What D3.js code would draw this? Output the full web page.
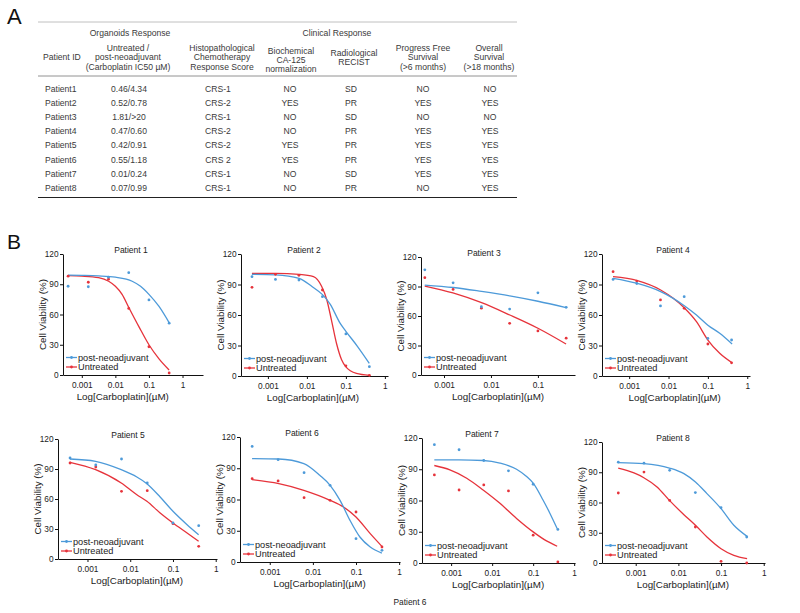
<!DOCTYPE html>
<html><head><meta charset="utf-8">
<script src="https://cdn.jsdelivr.net/npm/d3@7"></script>
<style>
body{margin:0;background:#fff;}
text{font-family:"Liberation Sans",Arial,sans-serif;}
</style>
</head><body><svg id="c" width="800" height="613"></svg>
<script>
// ---------- Panel A data ----------
const groupHeaders = ["Organoids Response", "Clinical Response"];
const columnHeaders = [
  ["Patient ID"],
  ["Untreated /", "post-neoadjuvant", "(Carboplatin IC50 µM)"],
  ["Histopathological", "Chemotherapy", "Response Score"],
  ["Biochemical", "CA-125", "normalization"],
  ["Radiological", "RECIST"],
  ["Progress Free", "Survival", "(>6 months)"],
  ["Overall", "Survival", "(>18 months)"]
];
const patientIds = ["Patient1","Patient2","Patient3","Patient4","Patient5","Patient6","Patient7","Patient8"];
const ic50Values = ["0.46/4.34","0.52/0.78","1.81/>20","0.47/0.60","0.42/0.91","0.55/1.18","0.01/0.24","0.07/0.99"];
const crsScores = ["CRS-1","CRS-2","CRS-1","CRS-2","CRS-2","CRS 2","CRS-1","CRS-1"];
const ca125Norm = ["NO","YES","NO","NO","YES","YES","NO","NO"];
const recist = ["SD","PR","SD","PR","PR","PR","SD","PR"];
const pfs6 = ["NO","YES","NO","YES","YES","YES","YES","NO"];
const os18 = ["NO","YES","NO","YES","YES","YES","YES","YES"];

// ---------- Panel B data ----------
const patientTitles = ["Patient 1","Patient 2","Patient 3","Patient 4","Patient 5","Patient 6","Patient 7","Patient 8"];
const seriesNames = ["post-neoadjuvant", "Untreated"];
const doses = [0.000390625, 0.0015625, 0.00625, 0.025, 0.1, 0.4]; // µM
const xTickValues = [0.001, 0.01, 0.1, 1];
const yTickValues = [0, 30, 60, 90, 120];

// measured viability (%) per dose
const postPoints = [
  [88, 87.5, 97, 101.5, 74.5, 51.4],
  [97.7, 95, 94.4, 78, 41.4, 9.2],
  [107, 93.7, 69.4, 67, 83.6, 68.8],
  [95, 91, 68.9, 78, 37, 35.4],
  [101, 94, 100, 76, 36, 33.3],
  [111, 98.2, 85.8, 73.6, 22.4, 11.2],
  [113.6, 108.7, 98.4, 88.5, 75.6, 32.2],
  [100, 99, 91.9, 69.8, 54.9, 25.8]
];
const untreatedPoints = [
  [98, 92, 95, 66, 28, 2],
  [87.2, 100, 99, 84.6, 10, 0.7],
  [99, 87, 68, 52.6, 44.8, 37.4],
  [102.6, 93.4, 74.8, 66.6, 31.5, 13],
  [96, 92, 67.7, 68.3, 35.3, 12.7],
  [80, 77.8, 61.8, 59.2, 48, 14.4],
  [84.6, 70.1, 75, 69.2, 26.7, 1],
  [69.4, 90.2, 62.1, 35.7, 1.7, 0]
];
// fitted curves: [log10(dose µM), viability %]
const postCurves = [
  [[-3.41,99],[-3,98.8],[-2.5,98.3],[-2,97],[-1.5,93],[-1.25,88],[-1,80],[-0.7,68],[-0.4,52]],
  [[-3.41,100],[-2.8,99.5],[-2.2,96],[-1.87,88],[-1.6,80],[-1.4,70.5],[-1.15,52],[-1,44],[-0.7,29],[-0.4,12.5]],
  [[-3.41,91.5],[-2.8,89],[-2.2,85],[-1.6,80.5],[-1,75],[-0.4,68.5]],
  [[-3.41,96],[-2.79,91],[-2.2,83],[-1.88,76.4],[-1.59,68.9],[-1.29,60],[-1,50],[-0.7,42],[-0.385,31.5]],
  [[-3.41,100],[-2.81,97.7],[-2.21,89.3],[-1.845,82],[-1.61,75.3],[-1.3,62],[-1,47.7],[-0.67,34.3],[-0.4,24.3]],
  [[-3.41,99.2],[-2.79,98.9],[-2.21,94.4],[-1.84,83.2],[-1.6,73.6],[-1.37,59.2],[-1.14,40],[-0.91,24],[-0.67,14.4],[-0.4,8.6]],
  [[-3.41,99],[-2.81,99],[-2.22,98.4],[-1.81,95.9],[-1.405,90],[-1.16,83],[-1,76.6],[-0.76,60.5],[-0.59,47.6],[-0.415,33.1]],
  [[-3.41,99.5],[-2.81,98.5],[-2.21,94.2],[-1.87,88.6],[-1.6,80.3],[-1.33,68.8],[-1,53.9],[-0.7,37.4],[-0.39,26.4]]
];
const untreatedCurves = [
  [[-3.41,98.5],[-3,98],[-2.5,96.5],[-2.2,93],[-2,88],[-1.8,80],[-1.6,67],[-1.3,48],[-1,30],[-0.7,16],[-0.4,5]],
  [[-3.41,101],[-2.8,101],[-2.2,100],[-1.83,97.7],[-1.62,88],[-1.49,75],[-1.37,55],[-1.24,32],[-1.11,16],[-1,9],[-0.73,2.6],[-0.4,0.7]],
  [[-3.41,90.5],[-2.81,83.5],[-2.2,73.5],[-1.6,61],[-1,47.5],[-0.4,31.5]],
  [[-3.41,97.7],[-2.79,93.8],[-2.2,84.6],[-1.88,76.4],[-1.59,66.6],[-1.29,53.4],[-1,35.4],[-0.7,22.3],[-0.385,13]],
  [[-3.41,96.7],[-2.81,89.3],[-2.21,76],[-1.845,64.3],[-1.61,57.7],[-1.3,46],[-1,36],[-0.67,26],[-0.4,17.7]],
  [[-3.41,79],[-2.79,75.2],[-2.21,68.8],[-1.6,59.2],[-1.29,52.8],[-1,43.2],[-0.67,27.2],[-0.4,15]],
  [[-3.41,93.6],[-3.03,89.4],[-2.62,81.4],[-2.22,70.1],[-1.81,57.3],[-1.405,42.8],[-1,29.9],[-0.675,21.2],[-0.415,16.1]],
  [[-3.41,94.2],[-3.04,89.3],[-2.81,84.6],[-2.5,75.4],[-2.21,62.1],[-1.87,47.9],[-1.6,37.4],[-1.33,25.8],[-1,14.2],[-0.7,7.6],[-0.39,4.3]]
];
const footnote = "Patient 6";

// ---------- layout / style ----------
const BLUE = "#4d9ad9", RED = "#e6333b";
const colors = [BLUE, RED];
const panels = [
  {left:63, right:203, top:254, bottom:375, lo:-3.56, hi:0.61, tx:131},
  {left:241,right:388, top:254, bottom:376, lo:-3.69, hi:0.08, tx:304},
  {left:421,right:575, top:257, bottom:375, lo:-3.49, hi:-0.21, tx:484},
  {left:602,right:750, top:254, bottom:376, lo:-3.69, hi:0.07, tx:673},
  {left:58, right:217, top:439, bottom:559, lo:-3.69, hi:0.03, tx:128},
  {left:240,right:400, top:437, bottom:562, lo:-3.69, hi:0.02, tx:302},
  {left:422,right:575, top:438, bottom:563, lo:-3.71, hi:0.02, tx:482},
  {left:602,right:765, top:442, bottom:563, lo:-3.79, hi:0.03, tx:673}
];
const FONT = '"Liberation Sans",Arial,sans-serif';

const svg = d3.select("#c");
svg.append("rect").attr("width",800).attr("height",613).attr("fill","#fff");

// ---------- Panel A ----------
svg.append("text").attr("x",7).attr("y",24).attr("font-size",22).attr("fill","#111").text("A");
svg.append("text").attr("x",7).attr("y",249).attr("font-size",21).attr("fill","#111").text("B");

const tA = svg.append("g").attr("fill","#3a3a3a").attr("font-size",8.6);
tA.append("line").attr("x1",38).attr("x2",517).attr("y1",22).attr("y2",22).attr("stroke","#b0b0b0").attr("stroke-width",0.8);
tA.append("line").attr("x1",38).attr("x2",517).attr("y1",76).attr("y2",76).attr("stroke","#777").attr("stroke-width",0.8);
tA.append("line").attr("x1",38).attr("x2",517).attr("y1",197.5).attr("y2",197.5).attr("stroke","#222").attr("stroke-width",1.2);

const groupX = [130, 337];
groupHeaders.forEach((g,i)=>{
  tA.append("text").attr("x",groupX[i]).attr("y",36).attr("text-anchor","middle").text(g);
});
const colX = [43, 128, 222, 291, 354, 423, 489];
const headerTop = [60, 51, 51, 53.5, 55.5, 51, 51];
columnHeaders.forEach((lines,c)=>{
  lines.forEach((l,k)=>{
    tA.append("text").attr("x",colX[c]).attr("y",headerTop[c]+k*9.4)
      .attr("text-anchor", c===0 ? "start" : "middle").text(l);
  });
});
const cols = [patientIds, ic50Values, crsScores, ca125Norm, recist, pfs6, os18];
const valX = [45, 129, 218, 290, 351, 423, 490];
patientIds.forEach((p,r)=>{
  const yy = 92 + r*14.1;
  cols.forEach((col,c)=>{
    tA.append("text").attr("x", valX[c]).attr("y",yy)
      .attr("text-anchor", c===0 ? "start" : "middle").text(col[r]);
  });
});

// ---------- Panel B ----------
const fmt = d => (d >= 1 ? d3.format("d")(d) : String(d));
panels.forEach((P,i)=>{
  const g = svg.append("g");
  const x = d3.scaleLog().domain([Math.pow(10,P.lo), Math.pow(10,P.hi)]).range([P.left, P.right]);
  const y = d3.scaleLinear().domain([0,120]).range([P.bottom, P.top]);
  const [dLo, dHi] = x.domain();
  const xt = xTickValues.filter(v => v >= dLo && v <= dHi);

  const xa = g.append("g").attr("transform",`translate(0,${P.bottom})`)
    .call(d3.axisBottom(x).tickValues(xt).tickFormat(fmt).tickSize(3).tickSizeOuter(0));
  const ya = g.append("g").attr("transform",`translate(${P.left},0)`)
    .call(d3.axisLeft(y).tickValues(yTickValues).tickSize(3).tickSizeOuter(0));
  [xa, ya].forEach(a=>{
    a.select(".domain").attr("stroke","#111").attr("stroke-width",1);
    a.selectAll(".tick line").attr("stroke","#111");
    a.selectAll(".tick text").attr("font-size",8.3).attr("fill","#222").attr("font-family",FONT);
  });
  xa.selectAll(".tick text").attr("dy","0.85em");
  ya.selectAll(".tick text").attr("x",-4.5);

  const x1 = Math.min(P.right, x(1));
  const cx = (P.left + x1)/2;
  g.append("text").attr("x",P.tx).attr("y",P.top-1).attr("text-anchor","middle")
    .attr("font-size",8.5).attr("fill","#222").text(patientTitles[i]);
  g.append("text").attr("x",cx).attr("y",P.bottom+25).attr("text-anchor","middle")
    .attr("font-size",9.8).attr("fill","#222").text("Log[Carboplatin](µM)");
  g.append("text").attr("transform",`translate(${P.left-17},${(P.top+P.bottom)/2}) rotate(-90)`)
    .attr("text-anchor","middle").attr("font-size",9.8).attr("fill","#222").text("Cell Viability (%)");

  const line = d3.line().x(d=>x(Math.pow(10,d[0]))).y(d=>y(d[1])).curve(d3.curveMonotoneX);
  const curves = [postCurves[i], untreatedCurves[i]];
  const pts = [postPoints[i], untreatedPoints[i]];
  [1,0].forEach(s=>{
    g.append("path").attr("d",line(curves[s])).attr("fill","none")
      .attr("stroke",colors[s]).attr("stroke-width",1.3);
  });
  [1,0].forEach(s=>{
    g.selectAll(null).data(pts[s].map((v,k)=>[doses[k],v])).join("circle")
      .attr("cx",d=>x(d[0])).attr("cy",d=>y(d[1])).attr("r",1.4).attr("fill",colors[s]);
  });

  // legend
  seriesNames.forEach((n,s)=>{
    const ly = P.bottom - 17.5 + s*9.5;
    g.append("line").attr("x1",P.left+3).attr("x2",P.left+14).attr("y1",ly).attr("y2",ly)
      .attr("stroke",colors[s]).attr("stroke-width",1.3);
    g.append("circle").attr("cx",P.left+8.5).attr("cy",ly).attr("r",1.4).attr("fill",colors[s]);
    g.append("text").attr("x",P.left+15).attr("y",ly).attr("dy","0.35em")
      .attr("font-size",9.2).attr("fill","#222").text(n);
  });
});

svg.append("text").attr("x",410).attr("y",605).attr("text-anchor","middle")
  .attr("font-size",8.4).attr("fill","#222").text(footnote);
</script></body></html>
